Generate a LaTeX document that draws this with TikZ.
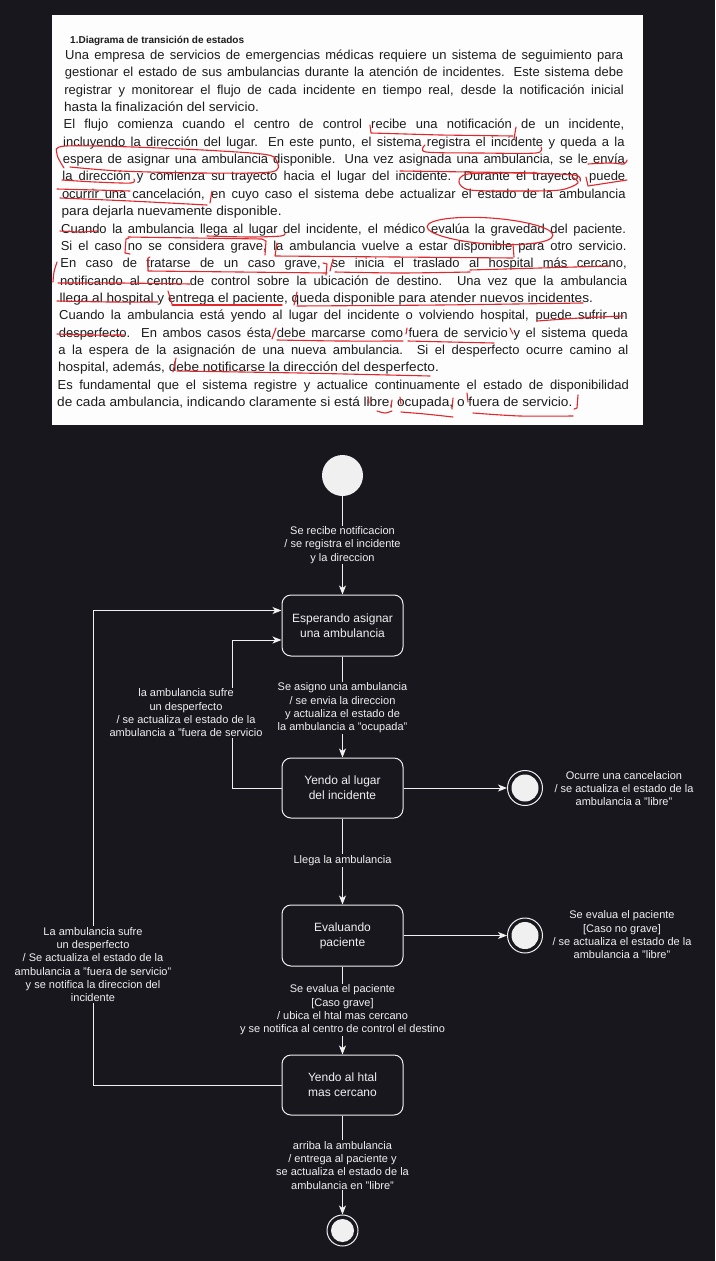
\documentclass[tikz,border=0pt]{standalone}
\usepackage{fontspec}
\setmainfont{Liberation Sans}
\usepackage{graphicx}
\usetikzlibrary{arrows.meta,calc}
\definecolor{bg}{HTML}{18171E}
\definecolor{fg}{HTML}{F0F0F0}
\definecolor{inkred}{HTML}{E3262B}
\definecolor{paper}{HTML}{FDFDFD}
\definecolor{ptext}{HTML}{1C1C1C}
\newlength\jlw
\newcommand\jfit[2]{\settowidth\jlw{#2}\ifdim\jlw>#1\relax\resizebox{#1}{\height}{#2}\else\makebox[#1][s]{#2}\fi}
\newcommand\jl[2]{\pgfmathsetmacro\jy{55+17.35*#1+4.5}\pgfmathsetmacro\jx{65-0.4*#1}\pgfmathsetmacro\jw{558+0.7*#1}\node[ptxt,anchor=base west] (l#1) at (\jx,\jy) {\jfit{\jw pt}{#2}};}
\newcommand\jlL[2]{\pgfmathsetmacro\jy{55+17.35*#1+4.5}\pgfmathsetmacro\jx{65-0.4*#1}\node[ptxt,anchor=base west] (l#1) at (\jx,\jy) {\scalebox{1.05}[1]{#2}};}
\tikzset{
  ptxt/.style={text=ptext,font=\fontsize{13}{15}\selectfont,inner sep=0pt},
  ink/.style={draw=inkred,line width=1.1pt,line cap=round,line join=round},
  state/.style={draw=fg,fill=bg,rounded corners=9pt,minimum width=121pt,minimum height=61pt,text=fg,font=\fontsize{12}{15}\selectfont,align=center,line width=1pt},
  lbl/.style={fill=bg,text=fg,font=\fontsize{11}{13.3}\selectfont,align=center,inner sep=1pt},
  arr/.style={draw=fg,line width=1pt,-{Stealth[length=9pt,width=7pt,inset=2.5pt]}},
  initst/.style={circle,fill=fg,inner sep=0pt},
  finout/.style={circle,draw=fg,fill=bg,line width=1pt,inner sep=0pt},
  finin/.style={circle,fill=fg,inner sep=0pt}
}
\begin{document}
\begin{tikzpicture}[x=1pt,y=-1pt]
\useasboundingbox (0,0) rectangle (715,1261);
\fill[bg] (0,0) rectangle (715,1261);
% ---------- scanned paper ----------
\fill[paper] (52,15) rectangle (643,425);
\node[ptxt,anchor=base west,font=\fontsize{10}{12}\selectfont\bfseries] (title) at (70,43.5) {1.Diagrama de transición de estados};
\jl{0}{Una empresa de servicios de emergencias médicas requiere un sistema de seguimiento para}
\jl{1}{gestionar el estado de sus ambulancias durante la atención de incidentes. Este sistema debe}
\jl{2}{registrar y monitorear el flujo de cada incidente en tiempo real, desde la notificación inicial}
\jlL{3}{hasta la finalización del servicio.}
\jl{4}{El flujo comienza cuando el centro de control recibe una notificación de un incidente,}
\jl{5}{incluyendo la dirección del lugar. En este punto, el sistema registra el incidente y queda a la}
\jl{6}{espera de asignar una ambulancia disponible. Una vez asignada una ambulancia, se le envía}
\jl{7}{la dirección y comienza su trayecto hacia el lugar del incidente. Durante el trayecto, puede}
\jl{8}{ocurrir una cancelación, en cuyo caso el sistema debe actualizar el estado de la ambulancia}
\jlL{9}{para dejarla nuevamente disponible.}
\jl{10}{Cuando la ambulancia llega al lugar del incidente, el médico evalúa la gravedad del paciente.}
\jl{11}{Si el caso no se considera grave, la ambulancia vuelve a estar disponible para otro servicio.}
\jl{12}{En caso de tratarse de un caso grave, se inicia el traslado al hospital más cercano,}
\jl{13}{notificando al centro de control sobre la ubicación de destino. Una vez que la ambulancia}
\jlL{14}{llega al hospital y entrega el paciente, queda disponible para atender nuevos incidentes.}
\jl{15}{Cuando la ambulancia está yendo al lugar del incidente o volviendo hospital, puede sufrir un}
\jl{16}{desperfecto. En ambos casos ésta debe marcarse como fuera de servicio y el sistema queda}
\jl{17}{a la espera de la asignación de una nueva ambulancia. Si el desperfecto ocurre camino al}
\jlL{18}{hospital, además, debe notificarse la dirección del desperfecto.}
\jl{19}{Es fundamental que el sistema registre y actualice continuamente el estado de disponibilidad}
\jlL{20}{de cada ambulancia, indicando claramente si está libre, ocupada, o fuera de servicio.}
% ---------- red handwriting ----------
\draw[ink] (370,125) -- (371,133) -- (440,135) -- (513,136);
\draw[ink] (516,127) -- (514,139);
\draw[ink] plot[smooth] coordinates {(425,145) (426,152) (480,153) (536,153) (541,147)};
\draw[ink] plot[smooth] coordinates {(64,168) (57,154) (66,146) (160,148) (262,154) (277,162) (271,172) (200,173) (120,171) (70,167)};
\draw[ink] plot[smooth] coordinates {(62,180) (95,182) (131,183) (134,179)};
\draw[ink] plot[smooth] coordinates {(57,189) (95,190) (130,191)};
\draw[ink] plot[smooth] coordinates {(60,198) (130,201) (207,205)};
\draw[ink] (212,191) -- (210,203);
\draw[ink] plot[smooth] coordinates {(400,171) (470,172) (537,173)};
\draw[ink] plot[smooth] coordinates {(588,164) (610,163) (624,164) (627,160)};
\draw[ink] plot[smooth] coordinates {(572,177) (578,183) (560,190) (520,191) (470,190) (459,182) (468,174) (520,173) (574,175) (580,180)};
\draw[ink] (586,177) -- (588,186) -- (627,180);
\draw[ink] plot[smooth] coordinates {(60,231) (80,232) (97,231)};
\draw[ink] plot[smooth] coordinates {(207,236) (250,237) (281,236) (285,233)};
\draw[ink,rotate around={-4:(490,231)}] (490,231) ellipse [x radius=63,y radius=13];
\draw[ink] (129,238) -- (126,239) -- (125,253) -- (130,254);
\draw[ink] (128,237) -- (262,239);
\draw[ink] (262,239) -- (266,241) -- (265,255);
\draw[ink] (277,243) -- (275,256) -- (395,257) -- (513,258);
\draw[ink] (513,244) -- (514,257);
\draw[ink] (150,257) -- (148,258) -- (148,271) -- (240,272) -- (327,273);
\draw[ink] (323,263) -- (327,264) -- (326,275);
\draw[ink] (333,259) -- (330,271);
\draw[ink] plot[smooth] coordinates {(335,272) (400,273) (470,272)};
\draw[ink] plot[smooth] coordinates {(470,270) (540,268) (610,266)};
\draw[ink] plot[smooth] coordinates {(57,262) (54,272) (53,282)};
\draw[ink] plot[smooth] coordinates {(58,283) (120,283) (190,284)};
\draw[ink] plot[smooth] coordinates {(57,301) (110,302) (158,302)};
\draw[ink] (168,291) -- (172,304);
\draw[ink] plot[smooth] coordinates {(172,305) (230,305) (282,305)};
\draw[ink] (297,292) -- (294,305);
\draw[ink] plot[smooth] coordinates {(297,306) (440,305) (583,303)};
\draw[ink] plot[smooth] coordinates {(537,321) (580,318) (623,316)};
\draw[ink] plot[smooth] coordinates {(57,334) (90,335) (124,335)};
\draw[ink] (276,328) -- (272,339);
\draw[ink] plot[smooth] coordinates {(277,340) (340,341) (403,341)};
\draw[ink] (407,328) -- (406,334);
\draw[ink] plot[smooth] coordinates {(408,341) (450,342) (494,343)};
\draw[ink] (510,328) -- (513,334);
\draw[ink] (176,358) -- (173,372);
\draw[ink] plot[smooth] coordinates {(177,371) (300,373) (430,376)};
\draw[ink] (368,397) -- (369,403);
\draw[ink] (392,400) -- (391,407);
\draw[ink] plot[smooth] coordinates {(377,411) (385,413) (392,411)};
\draw[ink] (400,397) -- (401,404);
\draw[ink] plot[smooth] coordinates {(401,412) (425,414) (453,417)};
\draw[ink] (453,398) -- (452,409);
\draw[ink] (467,393) -- (468,402);
\draw[ink] plot[smooth] coordinates {(473,413) (520,416) (573,416)};
\draw[ink] (578,395) -- (577,408) -- (574,409);
% ---------- state diagram ----------
\node[initst,minimum size=41pt] (start) at (342.5,475.5) {};
\node[state] (esp) at (342.5,625.5) {Esperando asignar\\una ambulancia};
\node[state,minimum height=60pt] (yl) at (342.5,788) {Yendo al lugar\\del incidente};
\node[state] (ev) at (342.5,935.5) {Evaluando\\paciente};
\node[state,minimum height=60pt] (yh) at (342.5,1085) {Yendo al htal\\mas cercano};
\node[finout,minimum size=35pt] (fin1) at (525,788) {};
\node[finin,minimum size=27pt] (fin1i) at (fin1) {};
\node[finout,minimum size=35pt] (fin2) at (525,935.5) {};
\node[finin,minimum size=27pt] (fin2i) at (fin2) {};
\node[finout,minimum size=31pt] (fin3) at (342.5,1230.5) {};
\node[finin,minimum size=23pt] (fin3i) at (fin3) {};
\coordinate (xin) at (232,700);
\coordinate (xout) at (93,700);
\draw[arr] (start) -- (esp);
\draw[arr] (esp) -- (yl);
\draw[arr] (yl) -- (ev);
\draw[arr] (ev) -- (yh);
\draw[arr] (yh) -- (fin3);
\draw[arr] (yl) -- (fin1);
\draw[arr] (ev) -- (fin2);
\draw[arr] (yl.west) -- (yl.west -| xin) |- ($(esp.west)+(0,14.5)$);
\draw[arr] (yh.west) -- (yh.west -| xout) |- ($(esp.west)+(0,-15)$);
\node[lbl] (t1) at (342.5,545) {Se recibe notificacion\\/ se registra el incidente\\y la direccion};
\node[lbl] (t2) at (342.5,708) {Se asigno una ambulancia\\/ se envia la direccion\\y actualiza el estado de\\la ambulancia a "ocupada"};
\node[lbl] (t3) at (342.5,860.5) {Llega la ambulancia};
\node[lbl] (t4) at (342.5,1010) {Se evalua el paciente\\{[}Caso grave{]}\\/ ubica el htal mas cercano\\y se notifica al centro de control el destino};
\node[lbl] (t5) at (342.5,1165.3) {arriba la ambulancia\\/ entrega al paciente y\\se actualiza el estado de la\\ambulancia en "libre"};
\node[lbl] (t6) at (186,713) {la ambulancia sufre\\un desperfecto\\/ se actualiza el estado de la\\ambulancia a "fuera de servicio};
\node[lbl] (t7) at (93,964.7) {La ambulancia sufre\\un desperfecto\\/ Se actualiza el estado de la\\ambulancia a "fuera de servicio"\\y se notifica la direccion del\\incidente};
\node[lbl] (t8) at (624,788.5) {Ocurre una cancelacion\\/ se actualiza el estado de la\\ambulancia a "libre"};
\node[lbl] (t9) at (622,935) {Se evalua el paciente\\{[}Caso no grave{]}\\/ se actualiza el estado de la\\ambulancia a "libre"};
\end{tikzpicture}
\end{document}
